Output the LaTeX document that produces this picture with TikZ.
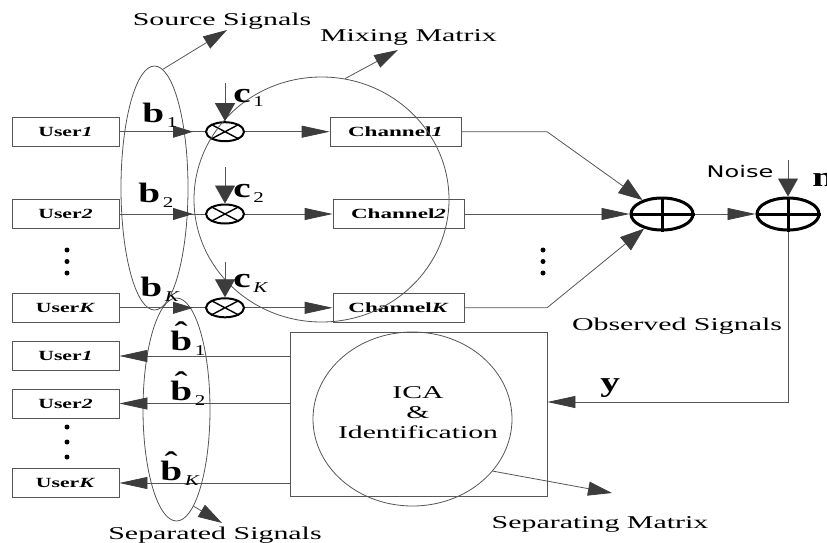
\documentclass[tikz,border=0pt]{standalone}
\usepackage{fontspec}
\usepackage{graphicx}
\setmainfont{Liberation Serif}
\newfontfamily\noisefont{DejaVu Sans}
\usetikzlibrary{arrows.meta,shapes.geometric,decorations.markings}
\definecolor{lnc}{HTML}{555555}
\definecolor{ahc}{HTML}{3C3C3C}
\newcommand{\mysb}[1]{\kern2pt\raisebox{-5pt}{\normalfont\fontsize{15}{15}\selectfont #1}}
\newcommand{\bhat}{\ooalign{b\cr\hidewidth\raisebox{0.32em}{\char"02C6}\hidewidth\cr}}
\begin{document}
\begin{tikzpicture}[x=1pt,y=-1pt,
  ln/.style={draw=lnc, line width=0.8pt},
  ubox/.style={draw=lnc, line width=0.8pt, minimum width=107pt, minimum height=29pt, inner sep=0pt, font=\fontsize{14}{14}\selectfont\bfseries},
  chbox/.style={ubox, minimum width=131pt},
  mult/.style={ellipse, draw=black, line width=2pt, minimum width=38pt, minimum height=19pt, inner sep=0pt},
  plusn/.style={ellipse, draw=black, line width=3pt, minimum width=62pt, minimum height=32pt, inner sep=0pt},
  oval/.style={ellipse, draw=lnc, line width=0.8pt, inner sep=0pt},
  lbl/.style={font=\fontsize{18}{20}\selectfont, xscale=1.66, inner sep=0pt, anchor=base},
  mlbl/.style={font=\fontsize{28}{28}\selectfont\bfseries, xscale=1.4, inner sep=0pt, anchor=base west},
  dotn/.style={circle, fill=black, inner sep=0pt, minimum size=5pt},
  ha/.style={-{Triangle[length=28pt,width=12pt,color=ahc]}},
  va/.style={-{Triangle[length=18pt,width=20pt,color=ahc]}},
  da/.style={-{Triangle[length=24pt,width=17pt,color=ahc]}},
  la/.style={-{Triangle[length=24pt,width=14pt,color=ahc]}},
  midarr/.style={postaction={decorate}, decoration={markings, mark=at position #1 with {\arrow{Triangle[length=20pt,width=12pt,color=ahc]}}}}
]
\useasboundingbox (0,0) rectangle (827,543);

% user boxes (top)
\node[ubox] (u1) at (65.5,131.7) {\scalebox{1.55}[1]{User\textit{1}}};
\node[ubox] (u2) at (65.5,214) {\scalebox{1.55}[1]{User\textit{2}}};
\node[ubox] (uK) at (65.5,307.8) {\scalebox{1.55}[1]{User\textit{K}}};
\node[dotn] (d1) at (67,250) {};
\node[dotn] (d2) at (67,261.5) {};
\node[dotn] (d3) at (67,273) {};

% multipliers
\node[mult] (m1) at (225,131.7) {};
\node[mult] (m2) at (225,214) {};
\node[mult] (mK) at (225,307.8) {};
\foreach \m in {m1,m2,mK}{
  \draw[line width=1.4pt] (\m.north west) -- (\m.south east) (\m.north east) -- (\m.south west);
}
\coordinate (c1top) at (225,83);
\coordinate (c2top) at (225,167);
\coordinate (cKtop) at (225,262);

% channels
\node[chbox] (ch1) at (395.5,131.7) {\scalebox{1.65}[1]{Channel\textit{1}}};
\node[chbox] (ch2) at (398.5,214) {\scalebox{1.65}[1]{Channel\textit{2}}};
\node[chbox] (chK) at (398.5,307.8) {\scalebox{1.65}[1]{Channel\textit{K}}};
\node[dotn] (e1) at (543,250) {};
\node[dotn] (e2) at (543,261.5) {};
\node[dotn] (e3) at (543,273) {};

% adders
\node[plusn] (p1) at (662,214) {};
\node[plusn] (p2) at (788,214) {};
\foreach \p in {p1,p2}{
  \draw[line width=3pt] (\p.west) -- (\p.east) (\p.north) -- (\p.south);
}
\coordinate (bend1) at (547,131.7);
\coordinate (bendK) at (547,307.8);
\coordinate (noisetop) at (788,160);
\coordinate (ycorner) at (788,402);

% separation block
\node[draw=lnc, line width=0.8pt, minimum width=257pt, minimum height=164pt, inner sep=0pt] (icabox) at (418.5,414) {};
\node[oval, minimum width=199pt, minimum height=174pt] (ica) at (412.5,419) {};
\node[font=\fontsize{18}{20}\selectfont, xscale=1.65, align=center, inner sep=0pt] (icatxt) at (418,413) {ICA\\\&\\Identification};

% user boxes (bottom)
\node[ubox] (ub1) at (65.5,356) {\scalebox{1.55}[1]{User\textit{1}}};
\node[ubox] (ub2) at (65.5,403.5) {\scalebox{1.55}[1]{User\textit{2}}};
\node[ubox] (ubK) at (65.5,483) {\scalebox{1.55}[1]{User\textit{K}}};
\node[dotn] (f1) at (67,427) {};
\node[dotn] (f2) at (67,442) {};
\node[dotn] (f3) at (67,457) {};

% grouping ovals
\node[oval, minimum width=67pt, minimum height=244pt] (src) at (154.5,188) {};
\node[oval, minimum width=255pt, minimum height=245pt] (mix) at (321.5,199.5) {};
\node[oval, minimum width=67pt, minimum height=223pt] (sepd) at (176.5,409.5) {};
\coordinate (srcend) at (227,30);
\coordinate (mixend) at (398,50);
\coordinate (sepdend) at (222,523);
\coordinate (icaend) at (612,493);

% connectors (top)
\draw[ln, midarr=0.86] (u1) -- (m1);
\draw[ln, midarr=0.86] (u2) -- (m2);
\draw[ln, midarr=0.86] (uK) -- (mK);
\draw[ln, va] (c1top) -- (m1);
\draw[ln, va] (c2top) -- (m2);
\draw[ln, va] (cKtop) -- (mK);
\draw[ln, ha] (m1) -- (ch1);
\draw[ln, ha] (m2) -- (ch2);
\draw[ln, ha] (mK) -- (chK);
\draw[ln, da] (ch1.east) -- (bend1) -- (p1);
\draw[ln, ha] (ch2) -- (p1);
\draw[ln, da] (chK.east) -- (bendK) -- (p1);
\draw[ln, ha] (p1) -- (p2);
\draw[ln, va] (noisetop) -- (p2);
\draw[ln, ha] (p2) -- (ycorner) -- (icabox.east |- ycorner);

% connectors (bottom)
\draw[ln, ha] (icabox.west |- ub1) -- (ub1);
\draw[ln, ha] (icabox.west |- ub2) -- (ub2);
\draw[ln, ha] (icabox.west |- ubK) -- (ubK);

% label arrows
\draw[ln, la] (src.86) -- (srcend);
\draw[ln, la] (mix.79) -- (mixend);
\draw[ln, la] (sepd.-80) -- (sepdend);
\draw[ln, la] (ica.-33) -- (icaend);

% labels
\node[lbl] (srclbl) at (222,26) {Source Signals};
\node[lbl] (mixlbl) at (408.5,42) {Mixing Matrix};
\node[lbl] (obslbl) at (677,330) {Observed Signals};
\node[lbl] (seplbl) at (600,528) {Separating Matrix};
\node[lbl] (sepdlbl) at (215,539) {Separated Signals};
\node[font=\noisefont\fontsize{16}{16}\selectfont, xscale=1.5, anchor=base, inner sep=0pt] (noise) at (740,177) {Noise};

\node[mlbl] (b1) at (142,122) {b\mysb{1}};
\node[mlbl] (b2) at (138,202) {b\mysb{2}};
\node[mlbl] (bK) at (140,296) {b\mysb{\textit{K}}};
\node[mlbl] (cl1) at (233,102) {c\mysb{1}};
\node[mlbl] (cl2) at (233,197) {c\mysb{2}};
\node[mlbl] (clK) at (233,287) {c\mysb{\textit{K}}};
\node[mlbl] (bh1) at (170,350) {\bhat\mysb{1}};
\node[mlbl] (bh2) at (170,400) {\bhat\mysb{2}};
\node[mlbl] (bhK) at (160,480) {\bhat\mysb{\textit{K}}};
\node[mlbl] (ylbl) at (600,391.5) {y};
\node[mlbl] (nlbl) at (812,186) {n};
\end{tikzpicture}
\end{document}
